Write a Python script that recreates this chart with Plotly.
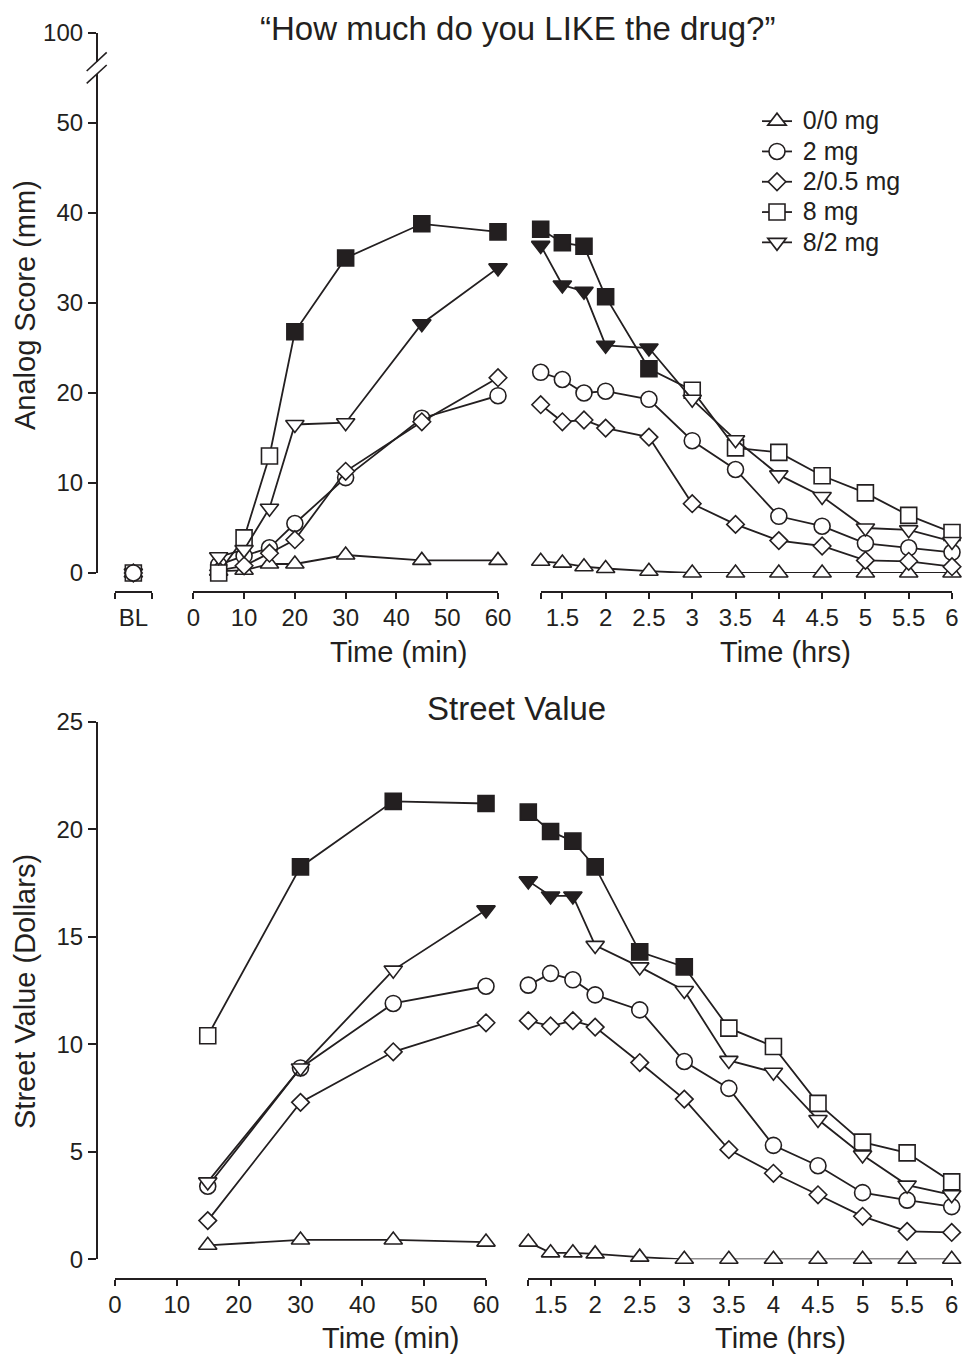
import plotly.graph_objects as go

# ---------------- data ----------------
series_names = ["0/0 mg", "2 mg", "2/0.5 mg", "8 mg", "8/2 mg"]
series_symbols = ["triangle-up", "circle", "diamond", "square", "triangle-down"]
series_sizes = [16, 16, 13.5, 16, 16]

min_top = [5, 10, 15, 20, 30, 45, 60]
hrs = [1.25, 1.5, 1.75, 2, 2.5, 3, 3.5, 4, 4.5, 5, 5.5, 6]
min_bot = [15, 30, 45, 60]

# "How much do you LIKE the drug?" (mm)
like_bl = [0, 0, 0, 0, 0]
like_min = [
    [0.2, 0.3, 1.0, 1.0, 2.0, 1.4, 1.4],
    [0.9, 1.9, 2.8, 5.5, 10.6, 17.2, 19.7],
    [0.3, 0.8, 2.2, 3.7, 11.3, 16.8, 21.7],
    [0.0, 3.9, 13.0, 26.8, 35.0, 38.8, 37.9],
    [1.8, 2.6, 7.2, 16.5, 16.7, 27.7, 33.9],
]
like_hrs = [
    [1.3, 1.1, 0.7, 0.5, 0.2, 0, 0, 0, 0, 0, 0, 0],
    [22.3, 21.5, 20.0, 20.2, 19.3, 14.7, 11.5, 6.3, 5.2, 3.3, 2.8, 2.3],
    [18.7, 16.8, 17.0, 16.1, 15.1, 7.7, 5.4, 3.6, 3.0, 1.4, 1.3, 0.7],
    [38.2, 36.7, 36.3, 30.7, 22.7, 20.3, 13.9, 13.4, 10.8, 8.9, 6.4, 4.5],
    [36.4, 32.0, 31.3, 25.3, 25.0, 19.3, 14.8, 10.9, 8.5, 5.0, 4.8, 3.5],
]
# significance (filled markers): 1 = filled
like_min_sig = [
    [0] * 7, [0] * 7, [0] * 7,
    [0, 0, 0, 1, 1, 1, 1],
    [0, 0, 0, 0, 0, 1, 1],
]
like_hrs_sig = [
    [0] * 12, [0] * 12, [0] * 12,
    [1, 1, 1, 1, 1, 0, 0, 0, 0, 0, 0, 0],
    [1, 1, 1, 1, 1, 0, 0, 0, 0, 0, 0, 0],
]

# Street value (dollars)
street_min = [
    [0.65, 0.9, 0.9, 0.8],
    [3.4, 8.9, 11.9, 12.7],
    [1.8, 7.3, 9.65, 11.0],
    [10.4, 18.25, 21.3, 21.2],
    [3.6, 8.9, 13.45, 16.25],
]
street_hrs = [
    [0.8, 0.3, 0.3, 0.25, 0.1, 0, 0, 0, 0, 0, 0, 0],
    [12.75, 13.3, 13.0, 12.3, 11.6, 9.2, 7.95, 5.3, 4.35, 3.1, 2.75, 2.45],
    [11.1, 10.85, 11.1, 10.8, 9.15, 7.45, 5.1, 4.0, 3.0, 2.0, 1.3, 1.25],
    [20.8, 19.9, 19.45, 18.25, 14.3, 13.6, 10.75, 9.9, 7.25, 5.45, 4.95, 3.6],
    [17.6, 16.9, 16.9, 14.6, 13.6, 12.5, 9.25, 8.7, 6.5, 4.85, 3.45, 3.0],
]
street_min_sig = [
    [0] * 4, [0] * 4, [0] * 4,
    [0, 1, 1, 1],
    [0, 0, 0, 1],
]
street_hrs_sig = [
    [0] * 12, [0] * 12, [0] * 12,
    [1, 1, 1, 1, 1, 1, 0, 0, 0, 0, 0, 0],
    [1, 1, 1, 0, 0, 0, 0, 0, 0, 0, 0, 0],
]

min_ticks = [0, 10, 20, 30, 40, 50, 60]
hrs_ticks = [1.25, 1.5, 2, 2.5, 3, 3.5, 4, 4.5, 5, 5.5, 6]
hrs_ticktext = ["", "1.5", "2", "2.5", "3", "3.5", "4", "4.5", "5", "5.5", "6"]
like_ticks = [0, 10, 20, 30, 40, 50]
street_ticks = [0, 5, 10, 15, 20, 25]

# ---------------- styling ----------------
W, H = 965, 1355
INK = "#231f20"
FONT = "Liberation Sans, Arial, Helvetica, sans-serif"


def px(x):
    return x / W


def py(y):
    return 1 - y / H


def fills(sig):
    return [INK if s else "white" for s in sig]


fig = go.Figure()


def mk(i, colors):
    return dict(symbol=series_symbols[i], size=series_sizes[i], color=colors,
                line=dict(color=INK, width=1.6))


common_line = dict(color=INK, width=1.8)

# baseline points (circle drawn last, as in the original)
for i in [0, 2, 3, 4, 1]:
    fig.add_trace(go.Scatter(
        x=[1], y=[like_bl[i]], xaxis="x", yaxis="y", mode="markers",
        marker=mk(i, "white"), cliponaxis=False, hoverinfo="skip",
        legendgroup=series_names[i], name=series_names[i], showlegend=False))

for i, name in enumerate(series_names):
    common = dict(line=common_line, cliponaxis=False, hoverinfo="skip",
                  legendgroup=name)
    fig.add_trace(go.Scatter(
        x=min_top, y=like_min[i], xaxis="x2", yaxis="y", mode="lines+markers",
        marker=mk(i, fills(like_min_sig[i])), showlegend=True,
        name='\u00a0<span style="font-size:25px">' + name + '</span>', **common))
    fig.add_trace(go.Scatter(
        x=hrs, y=like_hrs[i], xaxis="x3", yaxis="y", mode="lines+markers",
        marker=mk(i, fills(like_hrs_sig[i])), showlegend=False, name=name, **common))
    fig.add_trace(go.Scatter(
        x=min_bot, y=street_min[i], xaxis="x4", yaxis="y3", mode="lines+markers",
        marker=mk(i, fills(street_min_sig[i])), showlegend=False, name=name, **common))
    fig.add_trace(go.Scatter(
        x=hrs, y=street_hrs[i], xaxis="x5", yaxis="y3", mode="lines+markers",
        marker=mk(i, fills(street_hrs_sig[i])), showlegend=False, name=name, **common))

# invisible anchor trace for the broken-axis "100" segment
fig.add_trace(go.Scatter(x=[30], y=[98], xaxis="x2", yaxis="y2", mode="markers",
                         marker=dict(opacity=0), showlegend=False, hoverinfo="skip"))

tickfont = dict(family=FONT, size=24, color=INK)
axis_common = dict(showgrid=False, zeroline=False, showline=True, linecolor=INK, linewidth=1.6,
                   ticks="outside", tickwidth=1.6, tickcolor=INK, tickfont=tickfont,
                   fixedrange=True, automargin=False)
xcommon = dict(axis_common, ticklen=6, ticklabelstandoff=-2)
ycommon = dict(axis_common, ticklen=8, ticklabelstandoff=0)

top_x_pos = py(592)
bot_x_pos = py(1279)
y_pos = px(96.7)

fig.update_layout(
    width=W, height=H,
    margin=dict(l=0, r=0, t=0, b=0, pad=0, autoexpand=False),
    paper_bgcolor="white", plot_bgcolor="white",
    font=dict(family=FONT, color=INK),
    xaxis=dict(domain=[px(115), px(151.7)], range=[0, 2], anchor="free", position=top_x_pos,
               tickvals=[1], ticktext=["BL"], **dict(xcommon, ticklen=0, ticklabelstandoff=4),
               minor=dict(tickvals=[0, 2], ticks="outside", ticklen=6, tickwidth=1.6, tickcolor=INK)),
    xaxis2=dict(domain=[px(193.3), px(498)], range=[0, 60], anchor="free", position=top_x_pos,
                tickvals=min_ticks, **xcommon),
    xaxis3=dict(domain=[px(540.7), px(952)], range=[1.25, 6], anchor="free", position=top_x_pos,
                tickvals=hrs_ticks, ticktext=hrs_ticktext, **xcommon),
    xaxis4=dict(domain=[px(115), px(486)], range=[0, 60], anchor="free", position=bot_x_pos,
                tickvals=min_ticks, **xcommon),
    xaxis5=dict(domain=[px(528.3), px(951.7)], range=[1.25, 6], anchor="free", position=bot_x_pos,
                tickvals=hrs_ticks, ticktext=hrs_ticktext, **xcommon),
    yaxis=dict(domain=[py(573), py(74)], range=[0, (573 - 74) / 9.0], anchor="free", position=y_pos,
               tickvals=like_ticks, **ycommon),
    yaxis2=dict(domain=[py(62), py(33)], range=[97, 100], anchor="free", position=y_pos,
                tickvals=[100], **ycommon),
    yaxis3=dict(domain=[py(1259.3), py(721.8)], range=[0, 25], anchor="free", position=y_pos,
                tickvals=street_ticks, **ycommon),
    legend=dict(x=px(757), y=py(101), xanchor="left", yanchor="top",
                font=dict(family=FONT, size=21, color=INK), bgcolor="rgba(0,0,0,0)",
                tracegroupgap=0, itemwidth=30),
    showlegend=True,
)

# axis break slashes
for (x0, y0, x1, y1) in [(86.7, 71, 106.7, 52.3), (86.7, 83.3, 106.7, 65)]:
    fig.add_shape(type="line", xref="paper", yref="paper",
                  x0=px(x0), y0=py(y0), x1=px(x1), y1=py(y1),
                  line=dict(color=INK, width=1.6))

ann = [
    ("\u201cHow much do you LIKE the drug?\u201d", 517, 28, 33, 0),
    ("Time (min)", 398, 652, 29, 0),
    ("Time (hrs)", 785, 652, 29, 0),
    ("Analog Score (mm)", 25, 305, 29, -90),
    ("Street Value", 516, 708, 33, 0),
    ("Time (min)", 390, 1338, 29, 0),
    ("Time (hrs)", 780, 1338, 29, 0),
    ("Street Value (Dollars)", 25, 992, 29, -90),
]
for text, x, y, size, ang in ann:
    fig.add_annotation(text=text, x=px(x), y=py(y), xref="paper", yref="paper",
                       showarrow=False, textangle=ang, xanchor="center", yanchor="middle",
                       font=dict(family=FONT, size=size, color=INK))

fig.write_html("out.html")
